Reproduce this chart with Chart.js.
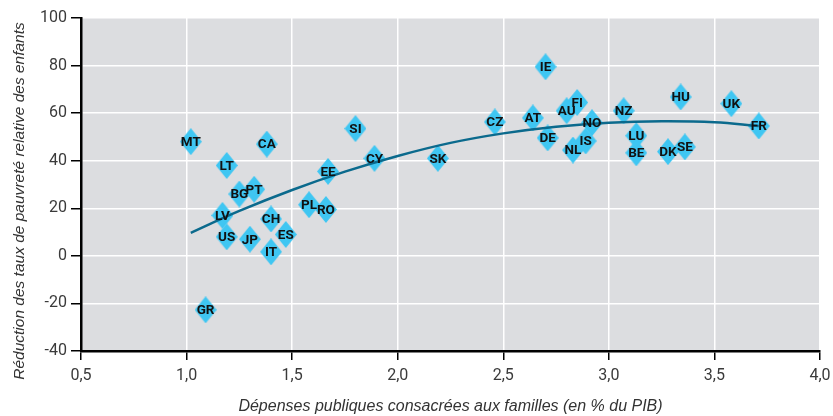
<!DOCTYPE html>
<html>
<head>
<meta charset="utf-8">
<script src="https://cdn.jsdelivr.net/npm/chart.js@4/dist/chart.umd.min.js"></script>
<style>
html,body{margin:0;padding:0;background:#fff;}
#wrap{width:833px;height:416px;}
</style>
</head>
<body>
<div id="wrap"><canvas id="c" width="833" height="416"></canvas></div>
<script>
// Country codes
const countries = ["MT","LT","CA","BG","PT","LV","US","JP","CH","ES","IT","GR","PL","RO","EE","SI","CY","SK","CZ","AT","IE","AU","FI","DE","NO","NL","IS","NZ","LU","BE","HU","DK","SE","UK","FR"];
// Public spending on families (% of GDP)
const spending = [1.02,1.19,1.38,1.25,1.32,1.17,1.19,1.30,1.40,1.47,1.40,1.09,1.58,1.66,1.67,1.80,1.89,2.19,2.46,2.64,2.70,2.80,2.85,2.71,2.92,2.83,2.89,3.07,3.13,3.13,3.34,3.28,3.36,3.58,3.71];
// Reduction in relative child poverty rates
const reduction = [48,38,47,26,28,17,8,7,15.5,9,1.7,-22.7,21.5,19.5,35.5,53.5,41,41,56.3,58,79.5,61,64.5,49.6,56,44.5,48.3,61,50.5,43.3,66.8,43.8,45.8,64,54.6];
// Fitted trend line
const trendX = [1.02,1.25,1.5,1.75,2.0,2.25,2.5,2.75,3.0,3.25,3.5,3.71];
const trendY = [9.7,18.9,27.7,35.4,42.0,47.5,51.5,54.3,56.0,56.6,56.2,54.6];
// Axis ticks
const xTicks = [0.5,1.0,1.5,2.0,2.5,3.0,3.5,4.0];
const yTicks = [-40,-20,0,20,40,60,80,100];
const xTitle = 'Dépenses publiques consacrées aux familles (en % du PIB)';
const yTitle = 'Réduction des taux de pauvreté relative des enfants';

const FONT = "'Roboto','Liberation Sans',sans-serif";
const TITLE_FONT = "'Liberation Sans','Roboto',sans-serif";

// tall diamond marker
const marker = document.createElement('canvas');
marker.width = 22; marker.height = 27;
(function(){
  const m = marker.getContext('2d');
  m.fillStyle = '#3fc6f2';
  m.beginPath();
  m.moveTo(11,0); m.lineTo(22,13.5); m.lineTo(11,27); m.lineTo(0,13.5);
  m.closePath(); m.fill();
})();

const bgPlugin = {
  id:'bg',
  beforeDraw(chart){
    const {ctx, chartArea:a} = chart;
    ctx.save();
    ctx.fillStyle = '#dcdde0';
    ctx.fillRect(a.left, a.top, a.right-a.left, a.bottom-a.top);
    ctx.restore();
  },
  afterDraw(chart){
    const ctx = chart.ctx;
    ctx.save();
    ctx.fillStyle = '#333';
    ctx.font = 'italic 15.5px ' + TITLE_FONT;
    ctx.textAlign = 'center';
    ctx.textBaseline = 'middle';
    ctx.translate(20, 201);
    ctx.rotate(-Math.PI/2);
    ctx.fillText(yTitle, 0, 0);
    ctx.restore();
  }
};
const labelPlugin = {
  id:'labels',
  afterDatasetsDraw(chart){
    const ctx = chart.ctx;
    const meta = chart.getDatasetMeta(0);
    ctx.save();
    ctx.font = "bold 13.5px " + FONT;
    ctx.fillStyle = '#111';
    ctx.textAlign = 'center';
    ctx.textBaseline = 'middle';
    meta.data.forEach((pt,i)=>{
      ctx.fillText(countries[i], pt.x, pt.y+1);
    });
    ctx.restore();
  }
};

new Chart(document.getElementById('c'), {
  data:{
    datasets:[
      {
        type:'scatter',
        order:2,
        data: spending.map((x,i)=>({x:x, y:reduction[i]})),
        pointStyle: marker,
        pointRadius:11,
        pointHoverRadius:11
      },
      {
        type:'line',
        order:1,
        data: trendX.map((x,i)=>({x:x, y:trendY[i]})),
        borderColor:'#0b6a8d',
        borderWidth:2.5,
        pointRadius:0,
        tension:0.4,
        fill:false
      }
    ]
  },
  options:{
    responsive:false,
    animation:false,
    events:[],
    layout:{padding:{top:18,right:13,left:0,bottom:0}},
    plugins:{legend:{display:false}, tooltip:{enabled:false}},
    scales:{
      x:{
        type:'linear',
        min:0.5, max:4.0,
        afterBuildTicks(s){ s.ticks = xTicks.map(v=>({value:v})); },
        afterFit(s){ s.height = 65; s.paddingRight = 0; s.paddingLeft = 0; },
        ticks:{
          callback:(v)=>v.toFixed(1).replace('.',','),
          font:{family:FONT, size:16},
          color:'#3a3a3a',
          padding:6
        },
        grid:{color:'#ffffff', lineWidth:1.5, tickColor:'#000', tickLength:9, drawTicks:true},
        border:{color:'#000', width:2.5},
        title:{display:true, text:xTitle,
          font:{family:TITLE_FONT, size:16, style:'italic'}, color:'#333', padding:{top:4, bottom:0}}
      },
      y:{
        min:-40, max:100,
        afterBuildTicks(s){ s.ticks = yTicks.map(v=>({value:v})); },
        afterFit(s){ s.width = 81; },
        ticks:{
          font:{family:FONT, size:16},
          color:'#3a3a3a',
          padding:4
        },
        grid:{color:'#ffffff', lineWidth:1.5, tickColor:'#000', tickLength:10},
        border:{color:'#000', width:2.5},
        title:{display:false}
      }
    }
  },
  plugins:[bgPlugin, labelPlugin]
});
</script>
</body>
</html>
